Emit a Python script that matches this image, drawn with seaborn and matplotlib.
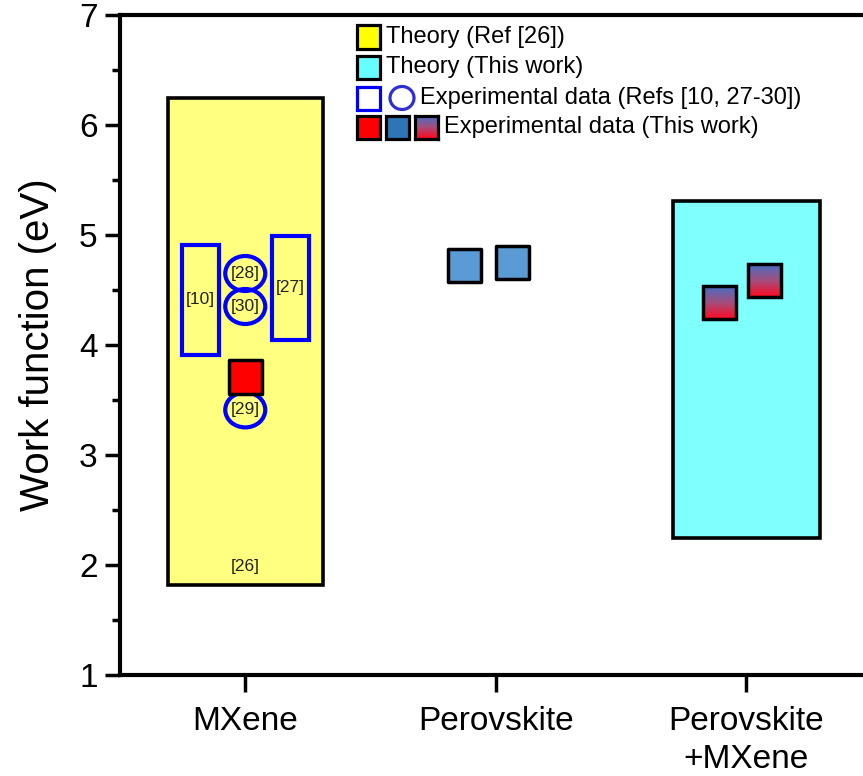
import numpy as np
import pandas as pd
import matplotlib
matplotlib.use('Agg')
import matplotlib.pyplot as plt
import seaborn as sns
from matplotlib.patches import Rectangle, Ellipse
from matplotlib.colors import LinearSegmentedColormap

# ---------------- data ----------------
categories = ['MXene', 'Perovskite', 'Perovskite\n+MXene']
yticks = [1, 2, 3, 4, 5, 6, 7]

theory_ref_range = [1.82, 6.25]    # Theory (Ref [26]) for MXene
theory_this_range = [2.25, 5.31]   # Theory (This work) for Perovskite+MXene

ref_rect_labels = ['[10]', '[27]']
ref_rect_low = [3.91, 4.05]
ref_rect_high = [4.91, 4.99]

ref_circ_labels = ['[28]', '[30]', '[29]']
ref_circ_values = [4.65, 4.35, 3.41]

exp_mxene = [3.71]
exp_perovskite = [4.72, 4.75]
exp_pm = [4.39, 4.59]

legend_labels = ['Theory (Ref [26])', 'Theory (This work)',
                 'Experimental data (Refs [10, 27-30])',
                 'Experimental data (This work)']

# ---------------- positions / styles ----------------
ref_rect_x = [-0.18, 0.18]
ref_circ_x = [0.0, 0.0, 0.0]
mx_x = [0.0]
pv_x = [0.876, 1.068]
pm_x = [1.892, 2.072]

W, H = 863, 776
sns.set_theme(style='white')
plt.rcParams['font.family'] = ['Liberation Sans', 'DejaVu Sans']
plt.rcParams['text.color'] = 'black'
plt.rcParams['axes.labelcolor'] = 'black'
plt.rcParams['xtick.color'] = 'black'
plt.rcParams['ytick.color'] = 'black'

fig = plt.figure(figsize=(W / 100, H / 100), dpi=100)
ax_left, ax_right_px = 120, 120 + 751.5
ax_top, ax_bot = 15, 675
ax = fig.add_axes([ax_left / W, 1 - ax_bot / H, (ax_right_px - ax_left) / W, (ax_bot - ax_top) / H])
ax.set_xlim(-0.5, 2.5)
ax.set_ylim(1, 7)
px_x = (ax_right_px - ax_left) / 3.0   # pixels per x unit
px_y = (ax_bot - ax_top) / 6.0         # pixels per y unit

# theory boxes
ax.add_patch(Rectangle((0 - 0.619 / 2, theory_ref_range[0]), 0.619,
                       theory_ref_range[1] - theory_ref_range[0],
                       facecolor='#FFFF80', edgecolor='black', lw=2.6, zorder=1))
ax.add_patch(Rectangle((2 - 0.587 / 2, theory_this_range[0]), 0.587,
                       theory_this_range[1] - theory_this_range[0],
                       facecolor='#80FFFF', edgecolor='black', lw=2.6, zorder=1))
ax.text(0, 1.99, '[26]', ha='center', va='center', fontsize=12.5, color='#222222', zorder=5)

# reference rectangles
rw = 37 / px_x
for x, lo, hi, lab in zip(ref_rect_x, ref_rect_low, ref_rect_high, ref_rect_labels):
    ax.add_patch(Rectangle((x - rw / 2, lo), rw, hi - lo, facecolor='none',
                           edgecolor='#0000FF', lw=3.0, zorder=3))
    ax.text(x, (lo + hi) / 2, lab, ha='center', va='center', fontsize=12.5, color='#222222', zorder=5)

# reference circles
for x, v, lab in zip(ref_circ_x, ref_circ_values, ref_circ_labels):
    ax.add_patch(Ellipse((x, v), 40 / px_x, 35 / px_y, facecolor='none',
                         edgecolor='#0000FF', lw=3.0, zorder=3))
    ax.text(x, v, lab, ha='center', va='center', fontsize=12.5, color='#222222', zorder=5)

# experimental squares (this work)
df_sq = pd.DataFrame({'x': mx_x + pv_x,
                      'y': exp_mxene + exp_perovskite,
                      'kind': ['MXene'] + ['Perovskite'] * len(exp_perovskite)})
sns.scatterplot(data=df_sq, x='x', y='y', hue='kind', palette={'MXene': '#FF0000', 'Perovskite': '#5B9BD5'},
                marker='s', s=24 ** 2, edgecolor='black', linewidth=2.5, legend=False, ax=ax, zorder=4)

# gradient squares
grad_cmap = LinearSegmentedColormap.from_list('g', ['#4070C8', '#A05080', '#FF0A20'])
grad = np.linspace(0, 1, 64).reshape(-1, 1)
hs = 16.5
for x, v in zip(pm_x, exp_pm):
    ext = [x - hs / px_x, x + hs / px_x, v - hs / px_y, v + hs / px_y]
    ax.imshow(grad, cmap=grad_cmap, extent=ext, aspect='auto', origin='upper', zorder=4)
    ax.add_patch(Rectangle((ext[0], ext[2]), ext[1] - ext[0], ext[3] - ext[2],
                           facecolor='none', edgecolor='black', lw=2.5, zorder=4.5))
ax.set_xlim(-0.5, 2.5)
ax.set_ylim(1, 7)

# axes styling
for s in ['left', 'bottom', 'top', 'right']:
    ax.spines[s].set_linewidth(3)
    ax.spines[s].set_color('black')
ax.set_xticks(range(len(categories)))
ax.set_xticklabels(categories, fontsize=24, linespacing=1.3)
ax.set_yticks(yticks)
ax.set_yticklabels([str(t) for t in yticks], fontsize=24)
ax.set_yticks(np.arange(1.5, 7, 1.0), minor=True)
ax.tick_params(axis='y', which='major', direction='out', length=11, width=2.5, left=True, pad=5)
ax.tick_params(axis='y', which='minor', direction='out', length=6, width=2.5, left=True)
ax.tick_params(axis='x', which='major', direction='out', length=12, width=2.5, bottom=True, pad=10)
ax.set_xlabel('')
ax.set_ylabel('Work function (eV)', fontsize=29, labelpad=16)

# ---------------- manual legend ----------------
def fx(x):
    return x / W

def fy(y):
    return 1 - y / H

sq = 23
row_y = [37, 67, 98, 127]

def leg_square(x0, yc, fc, ec='black', lw=2.3):
    fig.patches.append(Rectangle((fx(x0), fy(yc + sq / 2)), sq / W, sq / H,
                                 transform=fig.transFigure, facecolor=fc, edgecolor=ec, lw=lw, zorder=10))

leg_square(357, row_y[0], '#FFFF00')
leg_square(357, row_y[1], '#66FFFF')
leg_square(357, row_y[2], 'white', ec='#0000FF', lw=2.3)
fig.patches.append(Ellipse((fx(402), fy(row_y[2])), 24 / W, 23 / H, transform=fig.transFigure,
                           facecolor='none', edgecolor='#3030D0', lw=2.3, zorder=10))
leg_square(357, row_y[3], '#FF0000')
leg_square(386, row_y[3], '#2E75B6')
gax = fig.add_axes([fx(415), fy(row_y[3] + sq / 2), sq / W, sq / H])
gax.imshow(grad, cmap=grad_cmap, aspect='auto')
gax.set_xticks([]); gax.set_yticks([])
for s in gax.spines.values():
    s.set_linewidth(2.3); s.set_color('black'); s.set_visible(True)

text_x = [386, 386, 420, 444]
for tx, ty, lab in zip(text_x, row_y, legend_labels):
    fig.text(fx(tx), fy(ty), lab, ha='left', va='center', fontsize=17, color='black')

fig.savefig('out.png', dpi=100)
